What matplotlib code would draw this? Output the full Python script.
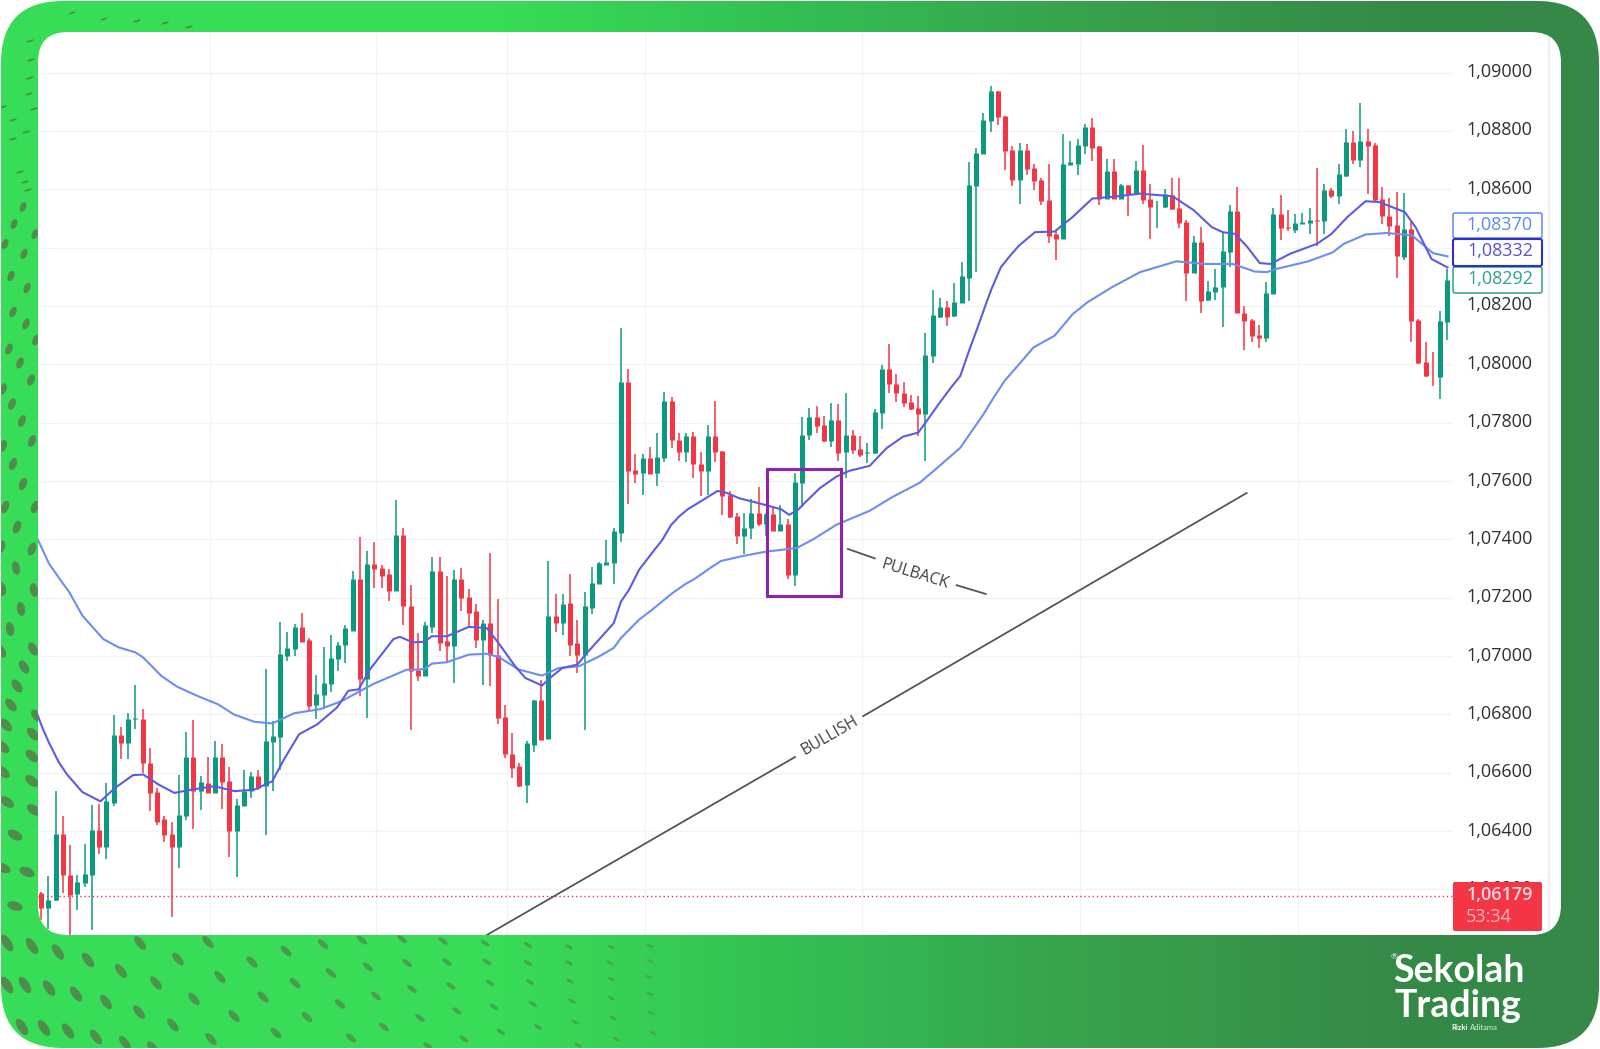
import numpy as np
import matplotlib
matplotlib.use("Agg")
import matplotlib.pyplot as plt
from matplotlib.colors import LinearSegmentedColormap
from matplotlib.patches import Ellipse, FancyBboxPatch, Rectangle
from matplotlib.ticker import FuncFormatter
from matplotlib.transforms import ScaledTranslation

# Candle values, in 1e-5 of a price unit
highs = [
    106192,106246,106537,106451,106351,106250,106356,106488,106494,106565,
    106797,106758,106806,106901,106818,106686,106548,106453,106433,106594,
    106741,106780,106588,106654,106709,106697,106620,106510,106611,106602,
    106611,106955,106777,107116,107084,107110,107148,107061,106935,107030,
    107072,107047,107107,107291,107408,107359,107391,107313,107297,107534,
    107440,107242,107078,107116,107339,107339,107273,107296,107301,107229,
    107179,107125,107355,107196,106834,106737,106634,106709,106851,106919,
    107326,107212,107212,107282,107125,107218,107304,107321,107398,107440,
    108126,107983,107692,107692,107715,107763,107905,107888,107763,107765,
    107769,107698,107792,107874,107704,107566,107489,107489,107538,107578,
    107489,107506,107518,107469,107626,107818,107849,107857,107823,107868,
    107863,107900,107774,107754,107731,107846,107997,108071,107968,107940,
    107894,107892,108107,108256,108227,108218,108278,108350,108694,108743,
    108860,108955,108938,108851,108748,108760,108755,108688,108637,108685,
    108459,108788,108766,108772,108822,108843,108748,108702,108705,108619,
    108614,108697,108751,108617,108560,108602,108637,108637,108493,108439,
    108470,108287,108327,108453,108545,108608,108201,108155,108136,108281,
    108536,108579,108530,108514,108520,108537,108673,108617,108606,108685,
    108805,108800,108894,108805,108760,108608,108571,108591,108587,108488,
    108155,108075,108043,108184,108327]
body_tops = [
    106187,106164,106391,106391,106250,106225,106252,106405,106405,106502,
    106730,106730,106785,106788,106785,106632,106533,106441,106391,106456,
    106654,106654,106568,106565,106654,106654,106571,106491,106537,106588,
    106588,106709,106726,107007,107027,107101,107101,107056,106869,106907,
    106995,107039,107095,107265,107265,107314,107314,107302,107282,107414,
    107414,107173,106953,107107,107290,107290,107050,107264,107264,107204,
    107153,107113,107113,107005,106792,106666,106623,106701,106848,106848,
    107136,107136,107179,107182,107045,107170,107250,107318,107321,107427,
    107940,107940,107638,107678,107678,107683,107874,107874,107742,107754,
    107754,107660,107754,107754,107704,107552,107481,107440,107489,107489,
    107486,107486,107452,107453,107595,107757,107818,107818,107791,107809,
    107809,107757,107757,107709,107699,107835,107983,107983,107934,107900,
    107871,107849,108031,108169,108195,108195,108213,108301,108614,108725,
    108837,108938,108938,108851,108734,108734,108734,108674,108631,108562,
    108445,108685,108694,108751,108812,108812,108748,108663,108663,108614,
    108614,108667,108667,108568,108544,108583,108579,108537,108488,108419,
    108419,108250,108264,108387,108525,108525,108176,108152,108101,108243,
    108514,108514,108470,108484,108488,108493,108493,108596,108596,108651,
    108763,108763,108766,108766,108751,108568,108507,108476,108465,108465,
    108153,108009,107964,108147,108289]
body_bottoms = [
    106135,106135,106164,106250,106181,106183,106221,106250,106344,106344,
    106496,106701,106701,106784,106632,106531,106433,106387,106344,106344,
    106453,106537,106537,106531,106531,106568,106399,106399,106487,106537,
    106548,106556,106705,106724,107001,107024,107049,106829,106831,106866,
    106904,106990,107038,107087,106921,106921,107299,107276,107222,107222,
    107170,106949,106930,106932,107100,107045,107033,107033,107199,107147,
    107056,107056,107005,106788,106663,106617,106555,106557,106694,106714,
    106716,107115,107115,107039,107005,107005,107164,107247,107313,107318,
    107423,107635,107624,107626,107624,107626,107680,107740,107700,107700,
    107658,107635,107634,107700,107549,107476,107412,107410,107438,107453,
    107453,107427,107427,107279,107279,107592,107757,107789,107738,107738,
    107697,107700,107706,107689,107697,107695,107834,107932,107900,107868,
    107848,107829,107829,108027,108163,108163,108164,108209,108296,108610,
    108720,108835,108849,108732,108631,108633,108671,108627,108560,108439,
    108428,108430,108682,108688,108748,108742,108568,108568,108568,108568,
    108585,108583,108564,108539,108541,108539,108533,108484,108313,108313,
    108218,108221,108247,108264,108384,108176,108149,108098,108089,108089,
    108241,108468,108466,108459,108482,108485,108490,108491,108576,108577,
    108646,108700,108700,108748,108562,108507,108474,108370,108367,108149,
    108003,107960,107963,107957,108144]
lows = [
    106095,106066,106162,106187,106043,106129,106207,106061,106322,106304,
    106487,106646,106646,106751,106600,106468,106422,106364,106106,106273,
    106439,106408,106471,106531,106529,106476,106311,106244,106487,106514,
    106542,106387,106537,106611,106984,107001,107047,106812,106783,106818,
    106877,106950,106975,107087,106863,106789,107234,107233,107190,107222,
    107108,106745,106915,106932,107079,107016,106979,106908,107153,107102,
    107028,106902,106897,106766,106651,106583,106552,106497,106672,106714,
    106716,107081,107073,107001,106942,106745,107145,107247,107313,107248,
    107390,107521,107592,107552,107624,107583,107664,107714,107668,107664,
    107609,107549,107552,107664,107484,107472,107383,107350,107400,107446,
    107410,107427,107427,107264,107241,107510,107740,107766,107735,107717,
    107668,107609,107691,107683,107663,107692,107780,107900,107871,107854,
    107843,107754,107670,108003,108159,108130,108163,108209,108218,108318,
    108720,108797,108820,108665,108611,108551,108648,108599,108545,108416,
    108356,108428,108682,108648,108720,108697,108545,108568,108565,108565,
    108510,108579,108551,108430,108468,108537,108528,108468,108218,108313,
    108176,108218,108221,108127,108333,108176,108049,108078,108056,108078,
    108241,108425,108457,108451,108480,108445,108405,108445,108571,108551,
    108642,108686,108677,108583,108560,108480,108439,108296,108358,108078,
    108001,107955,107924,107880,108083]
# G = closed up, R = closed down
directions = ("RGGRRGGGRG" "GRGGRRRRRG" "GRGRGRRGGG" "RGGGGGRRGG" "GGGGRGRRRG"
              "RRRGGRRGRR" "RGRRRRRGGR" "GRGRRGGGGG" "GRRGRGGRRG" "RRGRRRRGGR"
              "GRGRGGGRRG" "RGRRGGGRRR" "RRGGGRGGGG" "GGRRRGRRRR" "RGGGGRRGRG"
              "RGRRGGRRRG" "RGGGGRRRRG" "GRRGGGRGRG" "GRGRRRRRGR" "RRRGG")

# Moving averages: candle number, price (1e-5)
fast_pos = [0.4,1.2,2.1,3.5,4.6,6.7,9.2,11.2,13.7,15.1,17.2,19.4,21.7,24.9,27.7,30.4,32.9,34.5,36.6,39.1,41.8,43.4,44.8,46.4,49.6,50.5,52.3,53.9,
            54.9,57,60,62.5,64.1,66.4,67.8,70.1,71.5,72.9,75,76.1,80,81,82.1,83.5,85.8,86.7,87.9,89,90.2,92.7,94.3,95.5,97.3,100,103.1,104.2,105.4,106.5,108.4,110.7,112.5,115.3,117.6,119.9,
            122,123,124.8,126.5,127.8,129,130.2,131.5,132.2,133.4,134.7,135.9,138.1,140.8,143.3,146,148.7,152.6,157.1,160,162.5,164,165.7,167.4,169.1,170.6,173.3,177,179,181.2,183.7,185.6,189.1,190.6,192.8,195]
fast_val = [106806,106754,106703,106634,106594,106534,106502,106548,106592,106594,106560,106531,106542,106554,106537,106542,106571,106645,106732,106766,106823,106881,106886,106955,107058,107066,107047,107049,
            107068,107068,107100,107096,107045,106965,106925,106899,106931,106959,106971,107005,107113,107187,107227,107296,107370,107398,107449,107478,107503,107541,107566,107560,107541,107524,107503,107484,107501,107529,107575,107615,107635,107652,107712,107752,
            107766,107800,107863,107920,107960,108046,108127,108218,108264,108333,108373,108407,108453,108455,108505,108568,108574,108585,108576,108528,108470,108453,108447,108402,108347,108344,108379,108413,108447,108505,108559,108556,108522,108470,108361,108332]
slow_pos = [0.4,2.1,3.9,4.9,6.7,9.6,11.7,14,15.1,17.6,19.7,22.6,25.4,27.6,30.4,32.9,35.9,39.5,42.5,46.8,51.4,53.9,
            54.9,57,60,62.5,64.1,66.9,70.1,72.4,75.2,78,80,81,83.5,85.3,88.1,89.9,91.3,93.6,94.8,97.8,101,105.2,107.5,110.7,115.3,118.5,122.2,
            124.1,127.8,131,132.4,133.9,135.9,137.9,140.8,143.3,145.3,148.7,152.6,157.6,161.5,165.4,168.4,170.1,171.4,175.8,179.2,180.7,183.7,186.6,190.1,192,193,195]
slow_val = [107408,107317,107253,107219,107139,107058,107030,107013,106995,106932,106896,106863,106835,106800,106775,106769,106804,106818,106846,106904,106953,106955,
            106974,106979,107005,107008,106997,106954,106933,106959,106965,106999,107028,107062,107125,107159,107216,107247,107267,107307,107326,107343,107358,107370,107400,107450,107498,107546,107594,
            107634,107714,107829,107886,107943,108000,108058,108098,108172,108212,108264,108316,108353,108344,108344,108318,108316,108327,108353,108384,108413,108445,108450,108442,108402,108381,108370]

price_ticks = [1.062,1.064,1.066,1.068,1.070,1.072,1.074,1.076,1.078,1.080,1.082,1.084,1.086,1.088,1.090]
session_pos = [24.3,47.2,65.3,84.3,114.2,144.3,174.4]

# Drawing objects, candle number / price
pullback_box = (101.1,111.3,1.07207,1.07640)
trend_pos = [62.5,105,114.4,167.3]
trend_val = [1.06044,1.06654,1.06794,1.07559]
pull_pos = [112.3,116,127.3,131.3]
pull_val = [1.07367,1.07335,1.07243,1.07213]
last_price = 1.06179

# Background pattern, picture pixels
left_dots = [(27,288),(13,312),(26,324),(36,340),(9,349),(20,363),(31,380),(3,389),(12,404),(22,421),(32,441),(3,446),(13,464),
             (23,484),(5,507),(35,507),(17,527),(32,549),(1,547),(16,568),(34,590),(2,589),(21,609),(10,629),(33,649),(1,651),
             (24,667),(17,686),(11,705),(37,716),(6,725),(33,734),(3,747),(32,756),(3,772),(32,781),(7,802),(34,810),(15,835),(27,872),(3,868),(15,906),
             (23,207),(14,224),(35,234),(5,244),(24,254),(11,276)]
top_dashes = [(72,13),(104,19),(137,21),(165,23),(189,27),(30,41),(31,60),(30,78),(29,94),(34,109),(13,120),(26,132),(13,139),(3,107),(25,182),(20,172),(28,190)]
bottom_dots = [(7,943),(32,946),(58,952),(88,960),(121,971),(156,983),(194,999),(234,1016),(276,1033),
               (7,985),(25,985),(49,988),(76,994),(106,1002),(139,1012),(173,1025),(211,1039),
               (22,1027),(44,1028),(68,1031),(96,1037),(125,1043),(153,1048),
               (140,943),(178,959),(220,977),(263,997),(307,1017),(351,1038),
               (208,942),(252,962),(295,983),(340,1004),(384,1027),
               (286,951),(331,973),(376,996),(323,944),(368,967),(362,940),
               (402,939),(443,941),(485,943),(528,945),(569,947),(611,947),(650,946),
               (407,963),(447,962),(487,962),(528,963),(569,963),(610,963),(650,961),
               (412,989),(451,986),(490,983),(530,982),(570,981),(611,979),(649,977),
               (420,1018),(457,1011),(494,1007),(533,1004),(572,1001),(611,998),(650,994),
               (428,1046),(464,1039),(501,1032),(538,1027),(575,1022),(613,1018),(651,1013),
               (578,1045),(616,1039),(653,1033)]

GREEN = "#0b9a7e"
RED = "#f23645"
FAST = "#5b5ce2"
SLOW = "#6c8df2"
FONT = "Open Sans"

W, H = 1600, 1049
fig = plt.figure(figsize=(W/100, H/100), dpi=100)
fig.patch.set_facecolor("white")

# card behind the chart, in pixels
bg = fig.add_axes([0,0,1,1], zorder=0)
bg.set_xlim(0,W)
bg.set_ylim(H,0)
bg.axis("off")
stops = [(0,"#38de58"),(500/W,"#38dc57"),(860/W,"#33b852"),(1100/W,"#38a04c"),(1400/W,"#368a48"),(1,"#358847")]
cmap = LinearSegmentedColormap.from_list("card", stops)
card = FancyBboxPatch((1,1), W-2, H-2, boxstyle="round,pad=0,rounding_size=62", fc="none", ec="none")
bg.add_patch(card)
img = bg.imshow(np.linspace(0,1,800).reshape(1,-1), cmap=cmap, extent=[0,W,H,0], aspect="auto", zorder=1)
img.set_clip_path(card)

dots = "#4f8c4d"
for x,y in bottom_dots:
    k = max(0.1, 1 - x/720)
    # the far right ones fade out into the green
    e = Ellipse((x,y), 6+13*k, 1.5+7.5*k, angle=22+36*k, fc=dots, ec="none", alpha=0.55+0.45*k, zorder=2)
    bg.add_patch(e)
    e.set_clip_path(card)
for x,y in left_dots:
    k = min(1,(y-200)/600)
    angle = -68 if y < 560 else (80 if y < 640 else 35+(800-y)/6)
    e = Ellipse((x,y), 10+6*k, 6+3*k, angle=angle, fc=dots, ec="none", zorder=2)
    bg.add_patch(e)
    e.set_clip_path(card)
for x,y in top_dashes:
    e = Ellipse((x,y), 8, 1.8, angle=-18, fc="#3f9045", ec="none", zorder=2)
    bg.add_patch(e)
    e.set_clip_path(card)

panel = FancyBboxPatch((38,32), 1523, 903, boxstyle="round,pad=0,rounding_size=30", fc="white", ec="none", zorder=3)
bg.add_patch(panel)
strip, = bg.plot([1549,1549],[32,935], color="#eeeef4", lw=1.6, solid_capstyle="butt", zorder=4)
strip.set_clip_path(panel)

# price chart
ax = fig.add_axes([38/W, (H-935)/H, (1453-38)/W, (935-32)/H], zorder=1)
ax.patch.set_alpha(0)
for s in ax.spines.values():
    s.set_visible(False)
ax.set_xlim(0.586,195.76)
ax.set_ylim(1.06044,1.09139)
ax.set_yticks(price_ticks)
ax.set_xticks(session_pos)
ax.yaxis.tick_right()
ax.yaxis.set_major_formatter(FuncFormatter(lambda v,_: f"{v:.5f}".replace(".",",")))
ax.tick_params(axis="x", length=0, labelbottom=False)
ax.tick_params(axis="y", length=0, pad=10, labelsize=13, labelcolor="#303030")
up = ScaledTranslation(0, 2.5/100, fig.dpi_scale_trans)
for lab in ax.get_yticklabels():
    lab.set_family(FONT)
    lab.set_transform(lab.get_transform() + up)
ax.grid(True, color="#f2f3f5", lw=1)
ax.set_axisbelow(True)

n = np.arange(1,len(highs)+1)
colors = [GREEN if d == "G" else RED for d in directions]
wicks = ax.vlines(n, np.array(lows)/1e5, np.array(highs)/1e5, colors=colors, lw=1.1, zorder=3)
bodies = ax.vlines(n, np.array(body_bottoms)/1e5, np.array(body_tops)/1e5, colors=colors, lw=3.6, zorder=3)
wicks.set_clip_path(panel)
bodies.set_clip_path(panel)

l1, = ax.plot(slow_pos, np.array(slow_val)/1e5, color=SLOW, lw=1.5, zorder=4)
l2, = ax.plot(fast_pos, np.array(fast_val)/1e5, color=FAST, lw=1.5, zorder=4)
l3 = ax.axhline(last_price, color=RED, lw=1, ls=(0,(1,2)), zorder=2)

x0,x1,y0,y1 = pullback_box
ax.add_patch(Rectangle((x0,y0), x1-x0, y1-y0, fill=False, ec="#8e24aa", lw=2.2, zorder=5))

ax.plot(trend_pos[:2], trend_val[:2], color="#555555", lw=1.3, zorder=2)
ax.plot(trend_pos[2:], trend_val[2:], color="#555555", lw=1.3, zorder=2)
ax.text(109.8, 1.06727, "BULLISH", rotation=30, rotation_mode="anchor", ha="center", va="center",
        fontsize=11.5, color="#404040", family=FONT)
ax.plot(pull_pos[:2], pull_val[:2], color="#555555", lw=1.3, zorder=2)
ax.plot(pull_pos[2:], pull_val[2:], color="#555555", lw=1.3, zorder=2)
ax.text(121.6, 1.07279, "PULBACK", rotation=-17, rotation_mode="anchor", ha="center", va="center",
        fontsize=11.5, color="#404040", family=FONT)

for art in (l1,l2,l3):
    art.set_clip_path(panel)

# price labels and logo on top, in pixels
fg = fig.add_axes([0,0,1,1], zorder=2)
fg.set_xlim(0,W)
fg.set_ylim(H,0)
fg.axis("off")

def price_label(y0, y1, text, edge, color, lw=1.0):
    fg.add_patch(FancyBboxPatch((1453,y0), 89, y1-y0, boxstyle="round,pad=0,rounding_size=2", fc="white", ec=edge, lw=lw))
    fg.text(1533, (y0+y1)/2-1, text, ha="right", va="center", fontsize=13, color=color, family=FONT)

price_label(213,238,"1,08370","#4f7cf0","#5b8af5")
price_label(267,293,"1,08292","#1a9a80","#2aa58b")
price_label(239,266,"1,08332","#2f2fd0","#5a4fe0",lw=1.5)

fg.add_patch(FancyBboxPatch((1453,882), 89, 49, boxstyle="round,pad=0,rounding_size=2", fc=RED, ec="none"))
fg.text(1533, 895, "1,06179", ha="right", va="center", fontsize=13, color="#ffd9de", family=FONT, fontweight="semibold")
fg.text(1466, 917, "53:34", ha="left", va="center", fontsize=13, color="#ffb3bd", family=FONT)

fg.text(1459, 971, "Sekolah", ha="center", va="center", fontsize=27, color="white", family="Lato", fontweight="bold")
fg.text(1458, 1006, "Trading", ha="center", va="center", fontsize=27, color="white", family="Lato", fontweight="bold")
fg.text(1394, 957, "®", ha="center", va="center", fontsize=6, color="white", family="Lato")
fg.text(1451, 1027, "Rizki", ha="left", va="center", fontsize=5.5, color="white", family="Lato", fontweight="bold")
fg.text(1470, 1027, "Aditama", ha="left", va="center", fontsize=5.5, color="#dfeee2", family="Lato")

fig.savefig("out.png", dpi=100)
